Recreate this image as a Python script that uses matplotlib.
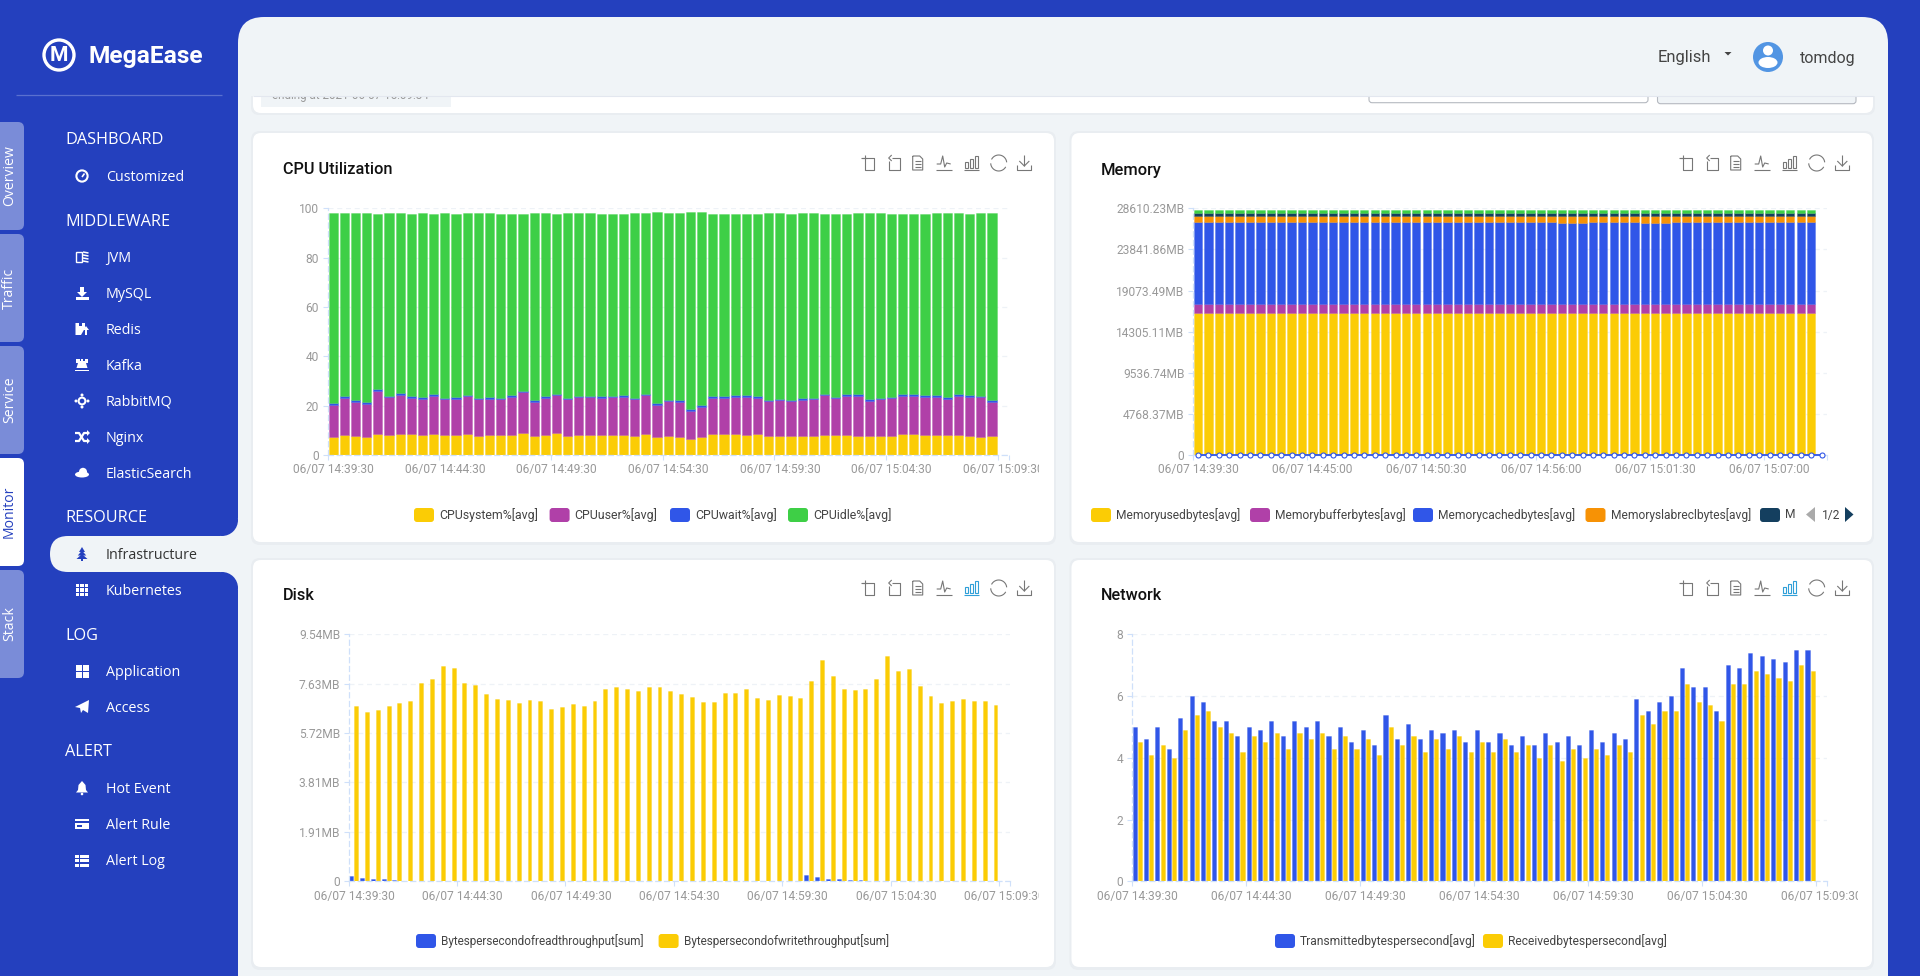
import numpy as np
import matplotlib
matplotlib.use("Agg")
import matplotlib.pyplot as plt
from matplotlib.colors import to_rgba
from matplotlib.patches import Circle, Ellipse, FancyBboxPatch, Polygon, Rectangle
from matplotlib.transforms import Bbox

# ================================
# Data
# ================================
cpu_system = [7.4,8.0,7.8,7.1,8.7,8.0,8.4,8.4,8.0,8.6,8.0,8.0,8.4,7.7,8.0,8.1,8.2,9.1,7.7,8.0,
              8.8,7.7,8.3,8.2,8.0,8.3,8.0,7.9,8.4,7.2,7.5,7.4,6.4,7.1,8.4,8.4,8.5,8.3,8.5,7.7,
              7.9,7.7,7.9,7.6,8.2,8.3,8.3,7.8,7.9,7.9,7.7,8.4,8.4,8.2,8.2,8.0,8.0,7.9,7.3,7.7]
cpu_user = [12.8,15.2,13.8,13.6,17.2,15.4,15.9,14.8,14.6,15.4,14.6,14.8,15.5,14.9,14.8,14.5,15.4,16.3,13.9,15.1,
            15.4,15.0,15.1,15.2,15.2,15.1,15.6,14.7,15.8,12.9,14.3,14.2,11.4,12.4,14.7,14.7,15.2,15.3,14.7,14.1,
            14.2,14.0,14.3,14.9,16.1,14.7,15.7,16.2,14.1,14.6,15.3,15.6,15.6,15.5,15.5,14.8,16.0,15.7,16.1,13.8]
cpu_wait = [0.7,0.7,0.6,0.8,0.7,0.7,0.8,0.6,0.8,0.6,0.6,0.6,0.6,0.6,0.7,0.6,0.7,0.6,0.6,0.7,
            0.6,0.6,0.6,0.6,0.6,0.6,0.6,0.6,0.5,0.8,0.6,0.7,0.8,0.6,0.7,0.7,0.6,0.6,0.6,0.6,
            0.6,0.7,0.8,0.7,0.6,0.7,0.7,0.6,0.6,0.6,0.6,0.6,0.6,0.6,0.6,0.6,0.7,0.6,0.6,0.8]
cpu_idle = [77.1,74.0,75.7,76.5,71.0,73.8,72.8,74.0,74.5,73.1,74.7,74.4,73.4,74.8,74.5,74.6,73.5,71.7,75.8,74.1,
            73.0,74.6,73.9,73.9,74.0,73.8,73.6,74.7,73.2,77.4,75.5,75.9,80.0,78.2,74.0,74.0,73.4,73.6,74.0,75.5,
            75.3,75.4,74.9,74.7,72.9,74.1,73.1,73.3,75.4,74.8,74.1,73.1,73.1,73.5,73.6,74.5,73.2,73.6,74.0,75.6]

mem_used = [16470,16470,16470,16480,16470,16470,16470,16470,16470,16480,
            16470,16460,16460,16470,16470,16470,16470,16480,16470,16470,
            16470,16470,16460,16460,16450,16450,16460,16470,16470,16470,
            16470,16470,16470,16470,16470,16470,16470,16470,16470,16470,
            16460,16470,16470,16470,16470,16470,16470,16470,16470,16470,
            16470,16470,16470,16470,16470,16470,16470,16470,16470,16470]
mem_buffer = [1040,1040,1040,1040,1040,1040,1040,1040,1040,1030,
              1040,1030,1040,1040,1050,1040,1040,1030,1040,1040,
              1040,1040,1050,1050,1060,1060,1050,1040,1040,1040,
              1040,1040,1040,1040,1040,1040,1040,1040,1040,1040,
              1050,1060,1040,1040,1040,1040,1040,1040,1040,1050,
              1060,1060,1060,1070,1070,1070,1060,1060,1050,1050]
mem_cached = [9460,9460,9470,9480,9490,9490,9480,9470,9460,9480,
              9480,9480,9490,9490,9480,9480,9470,9480,9480,9480,
              9470,9470,9480,9470,9470,9470,9480,9470,9460,9470,
              9470,9470,9460,9460,9460,9440,9450,9450,9460,9470,
              9470,9440,9460,9450,9450,9450,9460,9460,9460,9450,
              9450,9440,9450,9440,9440,9440,9450,9450,9460,9470]
mem_slab = [780,780,780,770,760,760,770,780,780,770,
            770,770,760,760,770,760,760,750,750,770,
            770,780,770,770,770,770,770,780,780,780,
            770,770,780,790,790,800,800,790,770,770,
            770,740,760,770,770,790,780,780,780,780,
            780,790,780,780,780,780,780,780,770,770]
mem_slab_unrecl = [270,270,270,270,300,290,270,270,270,270,
                   270,270,290,300,270,270,320,330,320,280,
                   280,270,270,290,280,280,280,270,270,270,
                   280,270,290,290,320,300,290,290,270,270,
                   270,370,360,360,280,280,270,270,270,280,
                   270,270,270,270,270,270,270,270,270,270]
mem_free = [350,350,350,350,340,340,350,350,350,350,
            350,350,340,340,350,350,330,320,340,350,
            350,350,350,340,350,350,350,350,350,350,
            350,350,340,340,330,340,340,340,350,350,
            350,340,340,340,350,340,350,350,350,340,
            350,350,350,350,350,350,350,350,350,350]
mem_zero = [0] * 61

disk_read = [0.20,0.13,0.09,0.07,0.05,0.03,0.02,0.01,0.01,0.01,0.01,0.01,0.01,0.01,0.01,0.01,0.01,0.01,0.01,0.01,
             0.01,0.01,0.01,0.01,0.01,0.01,0.01,0.01,0.01,0.01,0.01,0.01,0.01,0.01,0.02,0.02,0.01,0.01,0.01,0.02,
             0.02,0.02,0.24,0.17,0.10,0.08,0.05,0.04,0.02,0.03,0.02,0.02,0.01,0.01,0.01,0.01,0.01,0.01,0.01,0.02]
disk_write = [6.78,6.55,6.62,6.76,6.89,6.96,7.66,7.81,8.32,8.23,7.66,7.57,7.24,7.03,6.99,6.89,6.99,6.95,6.66,6.73,
              6.85,6.77,6.98,7.42,7.49,7.43,7.33,7.51,7.49,7.33,7.24,7.12,6.93,6.91,7.27,7.27,7.42,7.08,7.00,7.18,
              7.15,7.09,7.74,8.56,7.93,7.42,7.39,7.43,7.81,8.70,8.12,8.19,7.54,7.15,6.89,6.98,7.03,6.96,6.96,6.82]

net_tx = [5.0,4.6,5.0,4.3,5.3,6.0,5.8,5.2,5.2,4.7,5.0,4.9,5.2,4.7,5.2,5.0,5.2,4.7,5.0,4.5,
          4.9,4.4,5.4,4.6,5.1,4.6,4.9,4.8,4.9,4.5,4.9,4.5,4.8,4.4,4.7,4.4,4.8,4.5,4.7,4.4,
          4.9,4.5,4.8,4.6,5.9,5.5,5.8,6.0,6.9,6.3,6.3,5.5,7.0,6.9,7.4,7.3,7.2,7.1,7.5,7.5]
net_rx = [4.5,4.1,4.4,4.0,4.9,5.4,5.5,5.0,4.8,4.2,4.7,4.5,4.8,4.3,4.8,4.6,4.8,4.3,4.7,4.3,
          4.6,4.1,5.0,4.4,4.7,4.2,4.6,4.3,4.7,4.2,4.5,4.2,4.6,4.2,4.4,4.0,4.4,3.9,4.3,4.0,
          4.3,4.1,4.4,4.2,5.4,5.1,5.5,5.5,6.4,5.8,5.7,5.2,6.4,6.4,6.8,6.7,6.6,6.5,7.0,6.8]

labels_30s = ["06/07 14:39:30","06/07 14:44:30","06/07 14:49:30","06/07 14:54:30",
              "06/07 14:59:30","06/07 15:04:30","06/07 15:09:30"]
labels_mem = ["06/07 14:39:30","06/07 14:45:00","06/07 14:50:30","06/07 14:56:00",
              "06/07 15:01:30","06/07 15:07:00"]
cpu_ticks = [0,20,40,60,80,100]
mem_ticks = [0,4768.37,9536.74,14305.11,19073.49,23841.86,28610.23]
mem_tick_labels = ["0","4768.37MB","9536.74MB","14305.11MB","19073.49MB","23841.86MB","28610.23MB"]
disk_ticks = [0,1.907,3.815,5.722,7.629,9.537]
disk_tick_labels = ["0","1.91MB","3.81MB","5.72MB","7.63MB","9.54MB"]
net_ticks = [0,2,4,6,8]

YELLOW = "#FBCC05"
PURPLE = "#B040A8"
BLUE = "#3056E8"
GREEN = "#3ECF46"
ORANGE = "#F79205"
NAVY = "#143F5F"
SIDE = "#2440BE"
PANEL = "#F0F4F7"
TICK = "#999999"
AXIS = "#CFE0FA"
GRID = "#EEF2F7"
FONT = "Roboto"
MENU_FONT = "Open Sans"

W, H = 1920, 976
fig = plt.figure(figsize=(W / 100, H / 100), dpi=100, facecolor=SIDE)

bg = fig.add_axes([0, 0, 1, 1], zorder=0)
bg.set_xlim(0, W)
bg.set_ylim(H, 0)
bg.axis("off")


def rbox(x0, y0, x1, y1, r, color, z=1, **kw):
    p = FancyBboxPatch((x0, y0), x1 - x0, y1 - y0, boxstyle="round,pad=0,rounding_size=%g" % r,
                       fc=color, ec=kw.pop("ec", "none"), lw=kw.pop("lw", 0), zorder=z, **kw)
    bg.add_patch(p)
    return p


def rect(x0, y0, x1, y1, color, z=5):
    bg.add_patch(Rectangle((x0, y0), x1 - x0, y1 - y0, fc=color, ec="none", zorder=z))


def poly(points, color, z=5):
    bg.add_patch(Polygon(points, closed=True, fc=color, ec="none", zorder=z))


def stroke(xs, ys, color="#777777", lw=0.8, z=5):
    bg.plot(xs, ys, color=color, lw=lw, zorder=z, solid_capstyle="butt")


def txt(x, y, s, size_px, color, family=FONT, weight="normal", ha="left", z=6, **kw):
    return bg.text(x, y, s, fontsize=size_px * 0.72, color=color, family=family, weight=weight,
                   ha=ha, va="center", zorder=z, **kw)


# ================================
# Page frame
# ================================
rbox(238, 17, 1888, 1100, 26, PANEL, z=1)

# concave corners round the active menu item
rect(220, 518, 240, 590, PANEL, z=1)
bg.add_patch(Circle((222, 520), 16, fc=SIDE, ec="none", zorder=1.5))
bg.add_patch(Circle((222, 588), 16, fc=SIDE, ec="none", zorder=1.5))
rbox(50, 536, 270, 572, 18, PANEL, z=2)
rect(238, 536, 270, 572, PANEL, z=2)

# top card, mostly scrolled under the header
rbox(251, 70, 1875, 115, 8, "#E9EDF1", z=2)
rbox(253, 70, 1873, 113, 8, "white", z=2.1)
rect(261, 70, 451, 107, PANEL, z=2.2)
txt(272, 96, "ending at 2021-06-07 15:09:34", 11.6, "#999999", z=2.3)
rbox(1369, 70, 1648, 102.7, 3, "white", z=2.2, ec="#B5B9C0", lw=0.8)
rbox(1657.5, 70, 1856, 103.7, 3, PANEL, z=2.2, ec="#B5B9C0", lw=0.8)

# header covers the top card
rect(240, 60, 1888, 95.7, PANEL, z=3)
stroke([253, 1873], [95.7, 95.7], color="#E3E7EF", lw=0.8, z=3.1)

txt(1658, 57.5, "English", 16.5, "#444444")
poly([(1724.5, 52), (1731.5, 52), (1728, 55.5)], "#444444")
bg.add_patch(Circle((1768, 57), 15, fc="#5295E3", ec="none", zorder=5))
bg.add_patch(Circle((1768, 50.5), 5, fc="white", ec="none", zorder=6))
bg.add_patch(Ellipse((1768, 62.5), 19, 11, fc="white", ec="none", zorder=6))
txt(1800, 58, "tomdog", 16, "#444444")

# chart cards
CARDS = [(253, 133, 1054, 542), (1071.5, 133, 1872, 542), (253, 560, 1054, 967), (1071.5, 560, 1872, 967)]
for c in CARDS:
    rbox(c[0] - 2, c[1] - 2, c[2] + 2, c[3] + 3, 9, "#E9EDF1", z=2)
    rbox(c[0], c[1], c[2], c[3], 8, "white", z=2.1)

# ================================
# Sidebar
# ================================
bg.add_patch(Circle((59, 55), 15, fc="none", ec="white", lw=2.4, zorder=5))
txt(59, 55.5, "M", 21, "white", weight="bold", ha="center")
txt(88, 56, "MegaEase", 24.5, "white", weight="bold")
stroke([16, 222], [95.3, 95.3], color="#5A70CF", lw=0.9)

TABS = [("Overview", 122, 230), ("Traffic", 234, 342), ("Service", 346, 454), ("Monitor", 458, 566), ("Stack", 570, 678)]
for name, y0, y1 in TABS:
    active = name == "Monitor"
    rbox(-12, y0, 24, y1, 6, "white" if active else "#7A8CD8", z=2)
    txt(9.5, (y0 + y1) / 2, name, 14, SIDE if active else "white", family=MENU_FONT, ha="center", rotation=90)

HEADINGS = [("DASHBOARD", 139), ("MIDDLEWARE", 220), ("RESOURCE", 517), ("LOG", 634), ("ALERT", 751)]
MENU = [("Customized", 176), ("JVM", 257), ("MySQL", 293), ("Redis", 329), ("Kafka", 365), ("RabbitMQ", 401),
        ("Nginx", 437), ("ElasticSearch", 473), ("Infrastructure", 554), ("Kubernetes", 590),
        ("Application", 671), ("Access", 707), ("Hot Event", 788), ("Alert Rule", 824), ("Alert Log", 860)]
for name, y in HEADINGS:
    txt(65, y + 1.5, name, 16.3, "white", family=MENU_FONT)
for name, y in MENU:
    txt(106, y + 1.2, name, 14.3, "#333333" if name == "Infrastructure" else "white", family=MENU_FONT)


def menu_icon(name, y, cx=82):
    w = "white"
    if name == "Customized":
        bg.add_patch(Circle((cx, y), 5.6, fc="none", ec=w, lw=1.5, zorder=5))
        stroke([cx, cx + 2.5], [y + 1, y - 2.5], color=w, lw=1.2)
    elif name == "JVM":
        bg.add_patch(Rectangle((cx - 6, y - 5), 5.5, 10, fc="none", ec=w, lw=1, zorder=5))
        for dy in (-5, -2, 1, 4):
            stroke([cx + 1, cx + 6.5], [y + dy, y + dy + 1], color=w, lw=1.1)
    elif name == "MySQL":
        rect(cx - 6.5, y + 4, cx + 6.5, y + 6.5, w)
        rect(cx - 1.8, y - 6, cx + 1.8, y - 1, w)
        poly([(cx - 5, y - 1), (cx + 5, y - 1), (cx, y + 4)], w)
    elif name == "Redis":
        poly([(cx - 6.5, y - 6), (cx + 3, y - 6), (cx + 3, y - 1), (cx - 1, y + 6), (cx - 6.5, y + 6)], w)
        rect(cx - 3.5, y - 6, cx, y - 3, SIDE)
        poly([(cx + 1, y + 1), (cx + 7, y + 1), (cx + 4, y - 3)], w)
        rect(cx + 3, y + 1, cx + 5, y + 6, w)
    elif name == "Kafka":
        rect(cx - 6, y - 6, cx + 6, y - 2, w)
        poly([(cx - 4, y - 2), (cx + 4, y - 2), (cx + 5.5, y + 3), (cx - 5.5, y + 3)], w)
        rect(cx - 7, y + 5, cx + 7, y + 6.2, w)
        rect(cx - 2.5, y - 6, cx - 1, y - 4.5, SIDE)
        rect(cx + 1, y - 6, cx + 2.5, y - 4.5, SIDE)
    elif name == "RabbitMQ":
        bg.add_patch(Circle((cx, y), 3.4, fc="none", ec=w, lw=1.5, zorder=5))
        for dx, dy in ((0, -6), (0, 6), (-6, 0), (6, 0)):
            bg.add_patch(Circle((cx + dx, y + dy), 1.5, fc=w, ec="none", zorder=5))
    elif name == "Nginx":
        stroke([cx - 7, cx - 3, cx + 2, cx + 6], [y - 4, y - 4, y + 4, y + 4], color=w, lw=1.6)
        stroke([cx - 7, cx - 3, cx + 2, cx + 6], [y + 4, y + 4, y - 4, y - 4], color=w, lw=1.6)
        poly([(cx + 5, y - 7), (cx + 8, y - 4), (cx + 5, y - 1)], w)
        poly([(cx + 5, y + 1), (cx + 8, y + 4), (cx + 5, y + 7)], w)
    elif name == "ElasticSearch":
        bg.add_patch(Ellipse((cx, y + 1.5), 14, 6, fc=w, ec="none", zorder=5))
        bg.add_patch(Circle((cx + 1, y - 1.2), 4, fc=w, ec="none", zorder=5))
    elif name == "Infrastructure":
        for dy, hw in ((-7, 3), (-3.5, 4.2), (0, 5.5)):
            poly([(cx - hw, y + dy + 5), (cx + hw, y + dy + 5), (cx, y + dy)], SIDE)
        rect(cx - 1, y + 5, cx + 1, y + 7, SIDE)
    elif name == "Kubernetes":
        for i in range(3):
            for j in range(3):
                rect(cx - 6.5 + 4.6 * i, y - 6.5 + 4.6 * j, cx - 3.1 + 4.6 * i, y - 3.1 + 4.6 * j, w)
    elif name == "Application":
        for i in range(2):
            for j in range(2):
                rect(cx - 6.5 + 7 * i, y - 6.5 + 7 * j, cx - 0.5 + 7 * i, y - 0.5 + 7 * j, w)
    elif name == "Access":
        poly([(cx + 7, y - 7), (cx + 6, y + 6), (cx + 1, y + 3), (cx - 1, y + 6), (cx - 2, y + 1), (cx - 7, y)], w)
    elif name == "Hot Event":
        poly([(cx, y - 7), (cx + 3.5, y - 3), (cx + 4, y + 2), (cx + 6, y + 4.5), (cx - 6, y + 4.5), (cx - 4, y + 2), (cx - 3.5, y - 3)], w)
        bg.add_patch(Circle((cx, y + 6), 1.3, fc=w, ec="none", zorder=5))
    elif name == "Alert Rule":
        rect(cx - 7, y - 5.5, cx + 7, y - 3.5, w)
        rect(cx - 7, y - 1.5, cx + 7, y + 5, w)
        rect(cx - 5, y + 1, cx - 0.5, y + 3, SIDE)
    elif name == "Alert Log":
        for dy in (-5.5, -1, 3.5):
            rect(cx - 7, y + dy, cx - 3.5, y + dy + 3, w)
            rect(cx - 2, y + dy, cx + 7, y + dy + 3, w)


for name, y in MENU:
    menu_icon(name, y)


# ================================
# Chart chrome
# ================================
def toolbar(dx, dy, active=False):
    y = 163 + dy
    c = "#777777"
    x = 1685.7 + dx
    stroke([x - 6, x + 6, x + 6, x - 3, x - 3], [y - 5, y - 5, y + 7, y + 7, y - 8], c)
    stroke([x - 7, x - 1], [y - 5, y - 5], c)
    x = 1711.7 + dx
    stroke([x - 2, x + 6, x + 6, x - 5, x - 5], [y - 5, y - 5, y + 7, y + 7, y - 2], c)
    stroke([x - 2, x - 5, x - 2], [y - 8, y - 5, y - 2], c)
    x = 1735.7 + dx
    stroke([x - 5, x + 2, x + 5, x + 5, x - 5, x - 5], [y - 7, y - 7, y - 4, y + 7, y + 7, y - 7], c)
    for d in (-2, 1, 4):
        stroke([x - 3, x + 3], [y + d, y + d], c)
    x = 1761.7 + dx
    stroke([x - 7, x - 3, x - 1, x + 1, x + 3, x + 7], [y + 1, y + 1, y - 7, y + 4, y, y + 1], c)
    stroke([x - 8, x + 8], [y + 7, y + 7], c)
    x = 1789 + dx
    bc = "#2F9FD8" if active else c
    for ox, top in ((-6, -1), (-1, -4), (4, -7)):
        bg.add_patch(Rectangle((x + ox, y + top), 3.2, 5 - top, fc="none", ec=bc, lw=0.8, zorder=5))
    stroke([x - 7, x + 8], [y + 7, y + 7], bc)
    x = 1816.7 + dx
    t = np.linspace(0.3, 2.9, 20)
    stroke(x + 8 * np.cos(t + 0.2), y + 8 * np.sin(t + 0.2), c)
    stroke(x + 8 * np.cos(t + 3.3), y + 8 * np.sin(t + 3.3), c)
    x = 1842.3 + dx
    stroke([x, x], [y - 8, y + 3], c)
    stroke([x - 5, x, x + 5], [y - 2, y + 3, y - 2], c)
    stroke([x - 7, x - 7, x + 7, x + 7], [y + 2, y + 7, y + 7, y + 2], c)


def legend_row(y, names, colors, swatches, size=12, clip_right=None):
    for name, col, sx in zip(names, colors, swatches):
        rbox(sx, y - 7, sx + 20, y + 7, 3, col, z=5)
        t = txt(sx + 25, y, name, size, "#444444")
        if clip_right is not None:
            t.set_clip_box(Bbox([[0, 0], [clip_right, H]]))
            t.set_clip_on(True)


def make_axes(x0, y0, x1, y1, ymax, yticks, ylabels, xlabels, step, clip_right=None):
    ax = fig.add_axes([x0 / W, 1 - y1 / H, (x1 - x0) / W, (y1 - y0) / H], zorder=2)
    ax.patch.set_alpha(0)
    ax.set_xlim(-0.5, 60.5)
    ax.set_ylim(0, ymax)
    for s in ("top", "right"):
        ax.spines[s].set_visible(False)
    for s in ("left", "bottom"):
        ax.spines[s].set_color(AXIS)
        ax.spines[s].set_linewidth(0.9)
        ax.spines[s].set_linestyle((0, (4, 3)))
    ax.set_yticks(yticks, labels=ylabels)
    ax.yaxis.grid(True, color=GRID, lw=0.9, ls=(0, (4, 3)))
    ax.set_axisbelow(True)
    edges = [i * step - 0.5 for i in range(len(xlabels))] + [60.5]
    ax.set_xticks(edges, labels=[""] * len(edges))
    centers = [i * step for i in range(len(xlabels))]
    ax.set_xticks(centers, labels=xlabels, minor=True)
    ax.tick_params(axis="both", which="major", length=5 * 0.72, width=0.8, color=AXIS)
    ax.tick_params(axis="y", labelsize=8.64, labelcolor=TICK, pad=2.5)
    ax.tick_params(axis="x", which="minor", length=0, labelsize=8.64, labelcolor=TICK, pad=6)
    for lbl in ax.get_xticklabels(minor=True) + ax.get_yticklabels():
        lbl.set_family(FONT)
    if clip_right is not None:
        for lbl in ax.get_xticklabels(minor=True):
            lbl.set_clip_box(Bbox([[0, 0], [clip_right, H]]))
            lbl.set_clip_on(True)
    return ax


def halo(color):
    return to_rgba(color, 0.35)


x60 = np.arange(60)

# ================================
# CPU Utilization
# ================================
txt(283.2, 170, "CPU Utilization", 16.2, "#111111", weight="medium")
toolbar(-818, 0)
ax0 = make_axes(327.5, 208.3, 1008.8, 455, 100, cpu_ticks, [str(v) for v in cpu_ticks], labels_30s, 10, clip_right=1039)
bottom = np.zeros(60)
for vals, col in ((cpu_system, YELLOW), (cpu_user, PURPLE), (cpu_wait, BLUE), (cpu_idle, GREEN)):
    ax0.bar(x60, vals, 0.82, bottom=bottom, color=col, edgecolor=halo(col), linewidth=0.6)
    bottom += np.array(vals)
legend_row(515, ["CPUsystem%[avg]", "CPUuser%[avg]", "CPUwait%[avg]", "CPUidle%[avg]"],
           [YELLOW, PURPLE, BLUE, GREEN], [414, 549.6, 670, 788], size=12.4)

# ================================
# Memory
# ================================
txt(1101, 170, "Memory", 16.5, "#111111", weight="medium")
toolbar(0, 0)
ax1 = make_axes(1192.9, 208.3, 1826.7, 455, 28610.23, mem_ticks, mem_tick_labels, labels_mem, 11)
bottom = np.zeros(60)
for vals, col in ((mem_used, YELLOW), (mem_buffer, PURPLE), (mem_cached, BLUE), (mem_slab, ORANGE),
                  (mem_slab_unrecl, NAVY), (mem_free, GREEN)):
    ax1.bar(x60, vals, 0.8, bottom=bottom, color=col, edgecolor=halo(col), linewidth=0.6)
    bottom += np.array(vals)
ax1.plot(np.arange(61), mem_zero, color=BLUE, lw=1.3, marker="o", ms=3.6, mfc="white", mec=BLUE, mew=0.8, clip_on=False, zorder=5)
legend_row(515, ["Memoryusedbytes[avg]", "Memorybufferbytes[avg]", "Memorycachedbytes[avg]", "Memoryslabreclbytes[avg]"],
           [YELLOW, PURPLE, BLUE, ORANGE], [1091, 1250, 1413, 1585.5])
legend_row(515, ["Me"], [NAVY], [1760], clip_right=1796)
poly([(1815, 507), (1815, 522), (1806, 514.5)], "#AAAAAA")
txt(1821.5, 515, "1/2", 12, "#444444")
poly([(1845, 507), (1845, 522), (1853.5, 514.5)], NAVY)

# ================================
# Disk
# ================================
txt(283.2, 596, "Disk", 16.2, "#111111", weight="medium")
toolbar(-818, 425, active=True)
ax2 = make_axes(348.7, 634.3, 1009.8, 881.3, 9.537, disk_ticks, disk_tick_labels, labels_30s, 10, clip_right=1039)
ax2.bar(x60 - 0.28, disk_read, 0.36, color=BLUE, edgecolor=halo(BLUE), linewidth=0.6)
ax2.bar(x60 + 0.18, disk_write, 0.36, color=YELLOW, edgecolor=halo(YELLOW), linewidth=0.6)
legend_row(941, ["Bytespersecondofreadthroughput[sum]", "Bytespersecondofwritethroughput[sum]"], [BLUE, YELLOW], [416, 658.6], size=11.8)

# ================================
# Network
# ================================
txt(1101, 596, "Network", 16.2, "#111111", weight="medium")
toolbar(0, 425, active=True)
ax3 = make_axes(1131.5, 634.3, 1827.2, 881.3, 8, net_ticks, [str(v) for v in net_ticks], labels_30s, 10, clip_right=1858)
ax3.bar(x60 - 0.23, net_tx, 0.36, color=BLUE, edgecolor=halo(BLUE), linewidth=0.6)
ax3.bar(x60 + 0.23, net_rx, 0.36, color=YELLOW, edgecolor=halo(YELLOW), linewidth=0.6)
legend_row(941, ["Transmittedbytespersecond[avg]", "Receivedbytespersecond[avg]"], [BLUE, YELLOW], [1275, 1483])

plt.savefig("out.png", dpi=100, facecolor=SIDE)
